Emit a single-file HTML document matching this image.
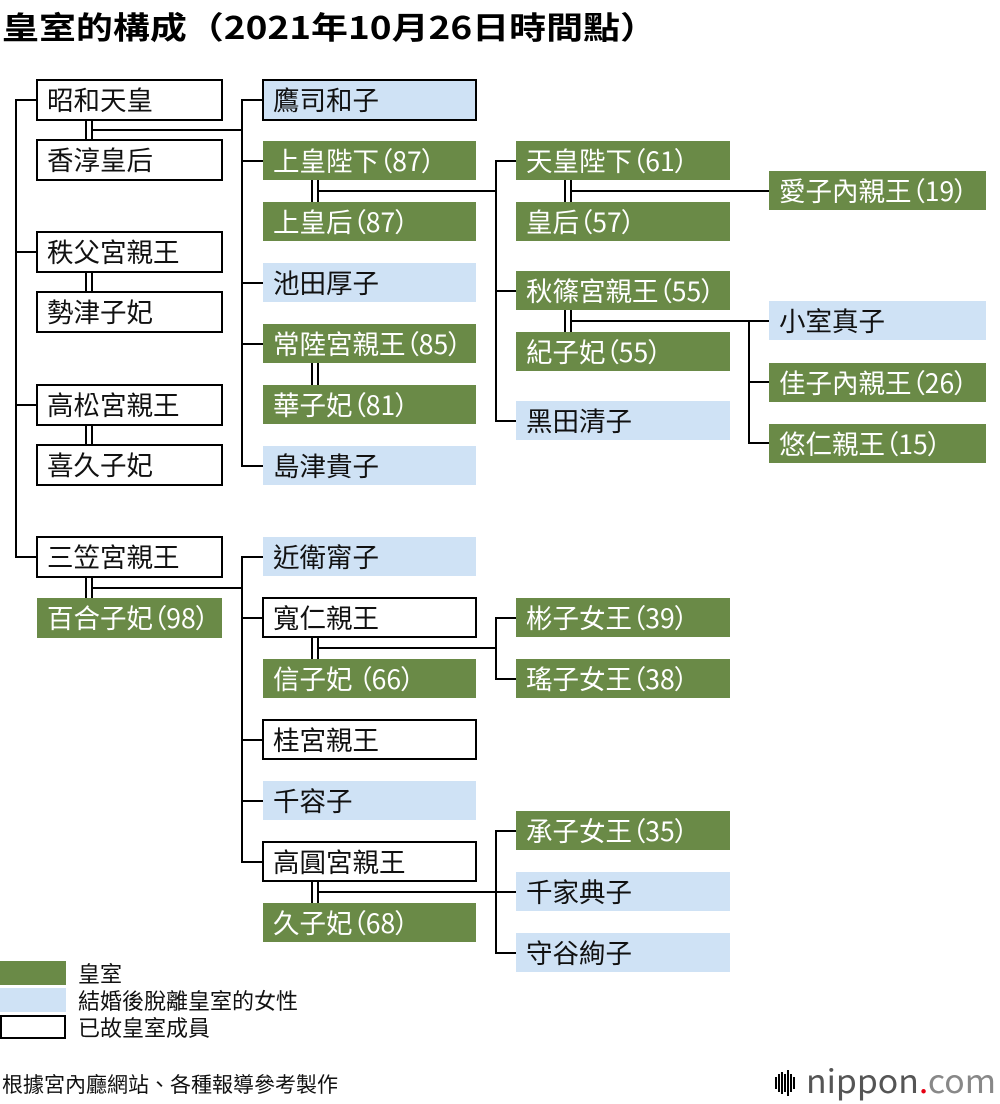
<!DOCTYPE html>
<html><head><meta charset="utf-8"><style>
body{margin:0;background:#fff}
svg{display:block}
text{font-family:"Noto Sans CJK TC","Liberation Sans",sans-serif;font-size:26.5px}
.tw,.tk{font-feature-settings:"palt" 1}
.g{fill:#6a8a47}.b{fill:#cfe2f5}.w{fill:#fff;stroke:#000;stroke-width:2}
.tw{fill:#fff}.tk{fill:#111}
line,polyline{stroke:#000;stroke-width:2;fill:none}
</style></head><body>
<svg width="1000" height="1104" viewBox="0 0 1000 1104" xmlns="http://www.w3.org/2000/svg">
<text x="2" y="39" style="font-size:31px;font-weight:bold" textLength="655" lengthAdjust="spacingAndGlyphs">皇室的構成（2021年10月26日時間點）</text>

<polyline points="37,100 16,100 16,557 37,557"/>
<line x1="16" y1="252" x2="37" y2="252"/><line x1="16" y1="405" x2="37" y2="405"/>
<line x1="86" y1="120" x2="86" y2="140"/><line x1="92" y1="120" x2="92" y2="140"/>
<line x1="86" y1="272" x2="86" y2="292"/><line x1="92" y1="272" x2="92" y2="292"/>
<line x1="86" y1="425" x2="86" y2="445"/><line x1="92" y1="425" x2="92" y2="445"/>
<line x1="86" y1="577" x2="86" y2="598"/><line x1="92" y1="577" x2="92" y2="598"/>
<line x1="92" y1="130" x2="242" y2="130"/>
<polyline points="263,100 242,100 242,466 263,466"/>
<line x1="242" y1="161" x2="263" y2="161"/><line x1="242" y1="283" x2="263" y2="283"/><line x1="242" y1="344" x2="263" y2="344"/>
<line x1="92" y1="588" x2="242" y2="588"/>
<polyline points="263,557 242,557 242,862 263,862"/>
<line x1="242" y1="618" x2="263" y2="618"/><line x1="242" y1="740" x2="263" y2="740"/><line x1="242" y1="801" x2="263" y2="801"/>

<line x1="312" y1="180" x2="312" y2="202"/><line x1="318" y1="180" x2="318" y2="202"/>
<line x1="318" y1="191" x2="496" y2="191"/>
<polyline points="516,161 496,161 496,421 516,421"/><line x1="496" y1="291" x2="516" y2="291"/>
<line x1="312" y1="363" x2="312" y2="385"/><line x1="318" y1="363" x2="318" y2="385"/>
<line x1="312" y1="637" x2="312" y2="659"/><line x1="318" y1="637" x2="318" y2="659"/>
<line x1="318" y1="648" x2="496" y2="648"/>
<polyline points="516,618 496,618 496,679 516,679"/>
<line x1="312" y1="881" x2="312" y2="903"/><line x1="318" y1="881" x2="318" y2="903"/>
<line x1="318" y1="892" x2="496" y2="892"/>
<polyline points="516,831 496,831 496,953 516,953"/><line x1="496" y1="892" x2="516" y2="892"/>

<line x1="565" y1="180" x2="565" y2="202"/><line x1="571" y1="180" x2="571" y2="202"/>
<line x1="571" y1="191" x2="769" y2="191"/>
<line x1="565" y1="310" x2="565" y2="332"/><line x1="571" y1="310" x2="571" y2="332"/>
<line x1="571" y1="321" x2="769" y2="321"/>
<polyline points="749,321 749,443 769,443"/><line x1="749" y1="382" x2="769" y2="382"/>

<rect class="w" x="37" y="80" width="185" height="40"/><text class="tk" x="47" y="110">昭和天皇</text>
<rect class="w" x="37" y="140" width="185" height="40"/><text class="tk" x="47" y="170">香淳皇后</text>
<rect class="w" x="37" y="232" width="185" height="40"/><text class="tk" x="47" y="262">秩父宮親王</text>
<rect class="w" x="37" y="292" width="185" height="40"/><text class="tk" x="47" y="322">勢津子妃</text>
<rect class="w" x="37" y="385" width="185" height="40"/><text class="tk" x="47" y="415">高松宮親王</text>
<rect class="w" x="37" y="445" width="185" height="40"/><text class="tk" x="47" y="475">喜久子妃</text>
<rect class="w" x="37" y="537" width="185" height="40"/><text class="tk" x="47" y="567">三笠宮親王</text>
<rect class="g" x="37" y="598" width="185" height="40"/><text class="tw" x="47" y="628">百合子妃（98）</text>

<rect class="b" x="263" y="80" width="213" height="40" style="stroke:#000;stroke-width:2"/><text class="tk" x="273" y="110">鷹司和子</text>
<rect class="g" x="263" y="141" width="213" height="39"/><text class="tw" x="273" y="171">上皇陛下（87）</text>
<rect class="g" x="263" y="202" width="213" height="39"/><text class="tw" x="273" y="232">上皇后（87）</text>
<rect class="b" x="263" y="263" width="213" height="39"/><text class="tk" x="273" y="293">池田厚子</text>
<rect class="g" x="263" y="324" width="213" height="39"/><text class="tw" x="273" y="354">常陸宮親王（85）</text>
<rect class="g" x="263" y="385" width="213" height="39"/><text class="tw" x="273" y="415">華子妃（81）</text>
<rect class="b" x="263" y="446" width="213" height="39"/><text class="tk" x="273" y="476">島津貴子</text>
<rect class="b" x="263" y="537" width="213" height="39"/><text class="tk" x="273" y="567">近衛甯子</text>
<rect class="w" x="263" y="598" width="213" height="39"/><text class="tk" x="273" y="628">寬仁親王</text>
<rect class="g" x="263" y="659" width="213" height="39"/><text class="tw" x="273" y="689">信子妃 （66）</text>
<rect class="w" x="263" y="720" width="213" height="39"/><text class="tk" x="273" y="750">桂宮親王</text>
<rect class="b" x="263" y="781" width="213" height="39"/><text class="tk" x="273" y="811">千容子</text>
<rect class="w" x="263" y="842" width="213" height="39"/><text class="tk" x="273" y="872">高圓宮親王</text>
<rect class="g" x="263" y="903" width="213" height="39"/><text class="tw" x="273" y="933">久子妃（68）</text>

<rect class="g" x="516" y="141" width="214" height="39"/><text class="tw" x="526" y="171">天皇陛下（61）</text>
<rect class="g" x="516" y="202" width="214" height="39"/><text class="tw" x="526" y="232">皇后（57）</text>
<rect class="g" x="516" y="271" width="214" height="39"/><text class="tw" x="526" y="301">秋篠宮親王（55）</text>
<rect class="g" x="516" y="332" width="214" height="39"/><text class="tw" x="526" y="362">紀子妃（55）</text>
<rect class="b" x="516" y="401" width="214" height="39"/><text class="tk" x="526" y="431">黑田清子</text>
<rect class="g" x="516" y="598" width="214" height="39"/><text class="tw" x="526" y="628">彬子女王（39）</text>
<rect class="g" x="516" y="659" width="214" height="39"/><text class="tw" x="526" y="689">瑤子女王（38）</text>
<rect class="g" x="516" y="811" width="214" height="39"/><text class="tw" x="526" y="841">承子女王（35）</text>
<rect class="b" x="516" y="872" width="214" height="39"/><text class="tk" x="526" y="902">千家典子</text>
<rect class="b" x="516" y="933" width="214" height="39"/><text class="tk" x="526" y="963">守谷絢子</text>

<rect class="g" x="769" y="171" width="217" height="39"/><text class="tw" x="779" y="201">愛子內親王（19）</text>
<rect class="b" x="769" y="301" width="217" height="39"/><text class="tk" x="779" y="331">小室真子</text>
<rect class="g" x="769" y="363" width="217" height="39"/><text class="tw" x="779" y="393">佳子內親王（26）</text>
<rect class="g" x="769" y="424" width="217" height="39"/><text class="tw" x="779" y="454">悠仁親王（15）</text>

<rect class="g" x="0" y="961" width="66" height="24"/>
<rect class="b" x="0" y="988" width="66" height="24"/>
<rect x="1" y="1016" width="64" height="22" style="fill:#fff;stroke:#000;stroke-width:2"/>
<text x="78" y="982" style="font-size:22px;fill:#111">皇室</text>
<text x="78" y="1009" style="font-size:22px;fill:#111">結婚後脫離皇室的女性</text>
<text x="78" y="1036" style="font-size:22px;fill:#111">已故皇室成員</text>
<text x="2" y="1092" style="font-size:21px;fill:#111">根據宮內廳網站、各種報導參考製作</text>
<g stroke="#999" stroke-width="1.5">
<line x1="776" y1="1077" x2="776" y2="1089"/><line x1="779" y1="1074" x2="779" y2="1092"/><line x1="782" y1="1072" x2="782" y2="1094"/><line x1="785" y1="1074" x2="785" y2="1092"/><line x1="788" y1="1070" x2="788" y2="1096"/><line x1="791" y1="1074" x2="791" y2="1092"/><line x1="794" y1="1077" x2="794" y2="1089"/>
</g>
<text x="806" y="1093" style="font-size:32px;fill:#555" textLength="190" lengthAdjust="spacingAndGlyphs">nippon<tspan style="fill:#e60012">.</tspan><tspan style="fill:#888">com</tspan></text>
</svg>
</body></html>
